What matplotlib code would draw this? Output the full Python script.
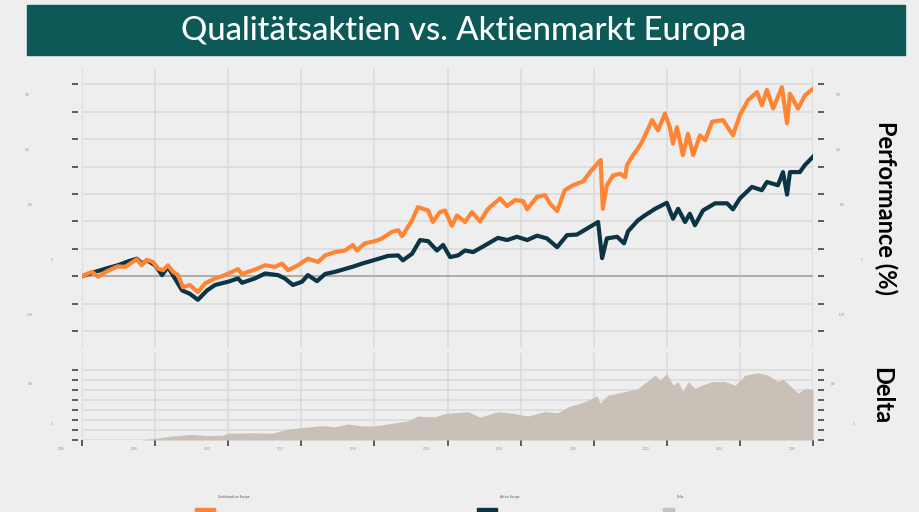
import matplotlib
matplotlib.use('Agg')
import matplotlib.pyplot as plt
from matplotlib.patches import Rectangle
from matplotlib.transforms import ScaledTranslation

# values (decimal years, percent)
years_quality = [2006.00, 2006.27, 2006.44, 2006.71, 2006.98, 2007.18, 2007.50, 2007.63, 2007.77, 2007.94,
                 2008.08, 2008.22, 2008.35, 2008.49, 2008.63, 2008.76, 2008.95, 2009.17, 2009.37, 2009.64,
                 2009.91, 2010.27, 2010.37, 2010.73, 2011.01, 2011.28, 2011.47, 2011.64, 2011.91, 2012.18,
                 2012.46, 2012.65, 2012.92, 2013.20, 2013.41, 2013.52, 2013.74, 2014.02, 2014.21, 2014.48,
                 2014.65, 2014.76, 2015.03, 2015.19, 2015.47, 2015.60, 2015.79, 2015.93, 2016.12, 2016.26,
                 2016.48, 2016.67, 2016.89, 2017.11, 2017.44, 2017.63, 2017.85, 2018.07, 2018.18, 2018.45,
                 2018.67, 2018.80, 2019.00, 2019.21, 2019.43, 2019.71, 2019.90, 2020.12, 2020.19, 2020.25,
                 2020.36, 2020.53, 2020.72, 2020.86, 2020.91, 2021.08, 2021.21, 2021.32, 2021.60, 2021.76,
                 2021.95, 2022.09, 2022.17, 2022.28, 2022.44, 2022.58, 2022.72, 2022.91, 2023.05, 2023.24,
                 2023.54, 2023.81, 2024.00, 2024.22, 2024.47, 2024.60, 2024.74, 2024.91, 2025.15, 2025.29,
                 2025.37, 2025.59, 2025.78, 2026.00]
quality = [0, 8, -1, 10, 18, 17, 31, 20, 30, 26,
           14, 11, 20, 8, 2, -20, -16, -29, -13, -4,
           2, 13, 4, 12, 20, 17, 23, 11, 20, 32,
           26, 38, 44, 47, 57, 47, 60, 64, 69, 81,
           84, 73, 102, 126, 120, 99, 117, 120, 92, 111,
           99, 117, 100, 123, 142, 128, 139, 137, 122, 145,
           148, 133, 119, 157, 166, 173, 190, 207, 212, 123,
           166, 184, 187, 181, 203, 221, 233, 245, 285, 266,
           297, 270, 242, 272, 221, 260, 221, 257, 248, 282,
           285, 257, 294, 321, 336, 312, 340, 306, 345, 279,
           333, 306, 330, 342]

years_market = [2006.00, 2006.36, 2006.71, 2006.98, 2007.26, 2007.50, 2007.64, 2007.78, 2008.00, 2008.19,
                2008.35, 2008.54, 2008.74, 2008.95, 2009.17, 2009.42, 2009.64, 2010.00, 2010.27, 2010.38,
                2010.73, 2011.01, 2011.36, 2011.55, 2011.77, 2012.02, 2012.18, 2012.43, 2012.65, 2012.92,
                2013.39, 2013.66, 2014.02, 2014.37, 2014.65, 2014.78, 2015.03, 2015.25, 2015.47, 2015.71,
                2015.88, 2016.07, 2016.29, 2016.48, 2016.70, 2016.94, 2017.38, 2017.63, 2017.90, 2018.18,
                2018.45, 2018.72, 2019.00, 2019.27, 2019.54, 2019.82, 2020.12, 2020.23, 2020.36, 2020.64,
                2020.83, 2020.94, 2021.21, 2021.40, 2021.68, 2022.00, 2022.17, 2022.31, 2022.50, 2022.63,
                2022.77, 2022.99, 2023.32, 2023.65, 2023.81, 2024.00, 2024.33, 2024.60, 2024.74, 2025.04,
                2025.18, 2025.29, 2025.37, 2025.64, 2025.78, 2026.00]
market = [0, 8, 15, 20, 27, 32, 23, 29, 20, 2,
          17, -4, -26, -32, -43, -26, -16, -10, -4, -12,
          -4, 5, 2, -4, -16, -10, 2, -9, 4, 8,
          17, 23, 30, 37, 38, 29, 41, 66, 64, 47,
          57, 35, 38, 47, 44, 53, 70, 66, 72, 66,
          74, 69, 53, 75, 76, 87, 99, 33, 69, 72,
          60, 82, 102, 111, 123, 134, 105, 123, 99, 114,
          93, 120, 133, 133, 122, 142, 163, 157, 172, 166,
          190, 149, 190, 190, 203, 218]

years_delta = [2006.00, 2007.64, 2008.00, 2008.46, 2009.01, 2009.45, 2009.83, 2010.00, 2010.73, 2011.20,
               2011.64, 2012.02, 2012.57, 2012.92, 2013.28, 2013.66, 2014.02, 2014.56, 2014.92, 2015.19,
               2015.47, 2015.66, 2015.93, 2016.56, 2016.89, 2017.38, 2017.77, 2018.20, 2018.67, 2019.02,
               2019.30, 2019.76, 2020.09, 2020.17, 2020.39, 2020.86, 2021.21, 2021.40, 2021.68, 2021.81,
               2022.00, 2022.17, 2022.31, 2022.44, 2022.58, 2022.77, 2022.96, 2023.24, 2023.59, 2023.87,
               2024.14, 2024.50, 2024.77, 2025.04, 2025.18, 2025.59, 2025.78, 2026.00]
delta = [0, 0, 4, 10, 14, 11, 12, 17, 18, 17,
         27, 31, 36, 33, 40, 35, 35, 43, 48, 60,
         58, 58, 66, 71, 57, 71, 67, 60, 71, 68,
         83, 96, 110, 92, 112, 121, 129, 142, 162, 150,
         165, 137, 146, 121, 146, 129, 137, 146, 146, 137,
         162, 168, 162, 146, 152, 117, 129, 127]

year_ticks = list(range(2006, 2027, 2))
perf_ticks = list(range(-100, 351, 50))
delta_ticks = list(range(0, 176, 25))
perf_labels = ['300', '200', '100', '0', '-100']
delta_labels = ['100', '0']
legend_labels = ['Qualitätsaktien Europa', 'Aktien Europa', 'Delta']

bg = '#eeeeee'
orange = '#ff8534'
navy = '#0b3444'
beige = '#c9c0b7'
teal = '#0c5957'
grid_col = '#dadada'
tick_col = '#333333'
tiny_col = '#8f8f8f'
font = ['Lato', 'DejaVu Sans']

fig = plt.figure(figsize=(9.19, 5.12), dpi=100, facecolor=bg)

# title banner
fig.patches.append(Rectangle((27 / 919, 1 - 55 / 512), 878 / 919, 50 / 512,
                             transform=fig.transFigure, color=teal, zorder=0))
fig.text(464 / 919, 1 - 31 / 512, 'Qualitätsaktien vs. Aktienmarkt Europa', color='white',
         fontsize=23.6, fontweight='medium', family=font, ha='center', va='center')


def style_axes(ax, yticks):
    ax.set_facecolor(bg)
    for s in ax.spines.values():
        s.set_visible(False)
    ax.spines['left'].set_position(('outward', 3))
    ax.spines['right'].set_position(('outward', 3.6))
    ax.set_xticks(year_ticks)
    ax.set_yticks(yticks)
    ax.grid(True, color=grid_col, lw=1.1)
    ax.set_axisbelow(True)
    ax.tick_params(axis='y', left=True, right=True, labelleft=False, labelright=False,
                   length=4.3, width=1.1, color=tick_col)


# main performance panel
ax1 = fig.add_axes([82 / 919, 1 - 348 / 512, 731 / 919, 280 / 512])
style_axes(ax1, perf_ticks)
ax1.tick_params(axis='x', bottom=False, labelbottom=False)
ax1.axhline(0, color='#a69f98', lw=1.1, zorder=2)
ax1.plot(years_market, market, color=navy, lw=3.0, zorder=3, solid_joinstyle='round')
ax1.plot(years_quality, quality, color=orange, lw=3.0, zorder=4, solid_joinstyle='round')
ax1.set_xlim(2006, 2026)
ax1.set_ylim(-131, 380)

# tiny, nearly invisible axis labels as in the original
left_x = [27.5, 27.5, 30.5, 51.5, 30]
right_x = [838, 838, 842.5, 862, 842]
label_y = [95, 150, 205, 260, 315]
for lbl, lx, rx, ly in zip(perf_labels, left_x, right_x, label_y):
    fig.text(lx / 919, 1 - ly / 512, lbl, fontsize=2, color=tiny_col, ha='center', va='center')
    fig.text(rx / 919, 1 - ly / 512, lbl, fontsize=2, color=tiny_col, ha='center', va='center')

fig.text(886 / 919, 1 - 208 / 512, 'Performance (%)', rotation=-90, fontsize=17,
         fontweight='bold', family=font, ha='center', va='center')

# delta panel
ax2 = fig.add_axes([82 / 919, 1 - 440 / 512, 731 / 919, 87 / 512])
style_axes(ax2, delta_ticks)
ax2.fill_between(years_delta, delta, 0, color=beige, lw=0, zorder=2)
ax2.set_xlim(2006, 2026)
ax2.set_ylim(0, 217.5)
ax2.tick_params(axis='x', bottom=True, labelbottom=False, length=4.3, width=1.1, color=tick_col)

shift = ScaledTranslation(-21 / 100, -9 / 100, fig.dpi_scale_trans)
for yr in year_ticks:
    ax2.text(yr, 0, str(yr), fontsize=2, color=tiny_col, ha='center', va='center',
             transform=ax2.get_xaxis_transform() + shift)

for lbl, lx, rx, ly in zip(delta_labels, [30.5, 52], [833, 854], [384, 424]):
    fig.text(lx / 919, 1 - ly / 512, lbl, fontsize=2, color=tiny_col, ha='center', va='center')
    fig.text(rx / 919, 1 - ly / 512, lbl, fontsize=2, color=tiny_col, ha='center', va='center')

fig.text(882 / 919, 1 - 396 / 512, 'Delta', rotation=-90, fontsize=17,
         fontweight='bold', family=font, ha='center', va='center')

# legend at the very bottom (partly cut off)
patch_x = [195, 477, 663]
patch_w = [20, 20, 11]
colors = [orange, navy, beige]
for lbl, px, pw, col in zip(legend_labels, patch_x, patch_w, colors):
    fig.patches.append(Rectangle((px / 919, -4 / 512), pw / 919, 8 / 512,
                                 transform=fig.transFigure, color=col))
    fig.text((px + pw + 3) / 919, 1 - 497 / 512, lbl, fontsize=2, color='#555555',
             ha='left', va='center')

fig.savefig('out.png', dpi=100, facecolor=bg)
